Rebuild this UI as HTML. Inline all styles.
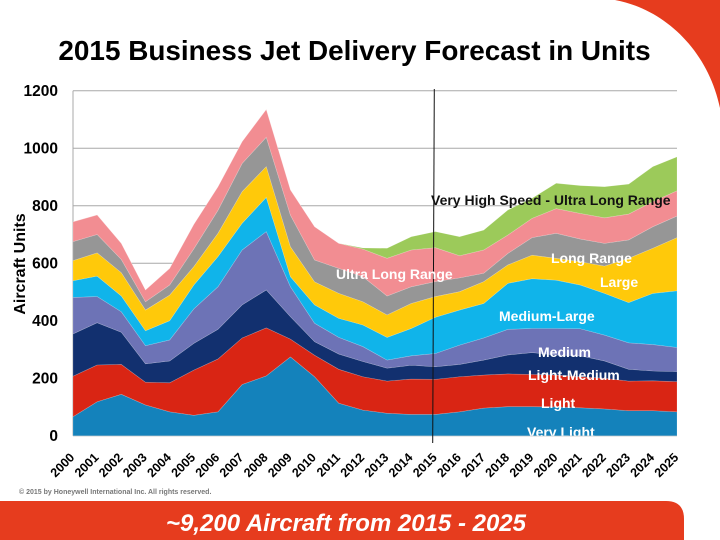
<!DOCTYPE html>
<html lang="en">
<head>
<meta charset="utf-8">
<title>2015 Business Jet Delivery Forecast in Units</title>
<style>
html,body{margin:0;padding:0;background:#fff;}
body{width:720px;height:540px;overflow:hidden;}
svg{display:block;font-family:"Liberation Sans",Arial,sans-serif;}
text{font-weight:bold;}
</style>
</head>
<body>
<svg id="chart" width="720" height="540" viewBox="0 0 720 540" xmlns="http://www.w3.org/2000/svg">
  <defs>
    <clipPath id="plot-clip"><rect x="60" y="60" width="640" height="375.7"/></clipPath>
  </defs>
  <rect x="0" y="0" width="720" height="540" fill="#ffffff"/>
  <path d="M615 0 C664 9 708 50 720 108 L720 0 Z" fill="#e63c1e"/>
  <text x="354.5" y="60" text-anchor="middle" font-size="27.9" fill="#000">2015 Business Jet Delivery Forecast in Units</text>
  <g id="grid"></g>
  <g id="areas"></g>
  <g id="yticks"></g>
  <g id="xticks"></g>
  <text transform="translate(25,264) rotate(-90)" text-anchor="middle" font-size="16" fill="#000">Aircraft Units</text>
  <line x1="434.3" y1="89" x2="432.7" y2="443" stroke="#111" stroke-width="1"/>
  <g font-size="14">
    <text x="431" y="205" fill="#111">Very High Speed - Ultra Long Range</text>
    <text x="336" y="279" fill="#fff">Ultra Long Range</text>
    <text x="551" y="263" fill="#fff">Long Range</text>
    <text x="600" y="287" fill="#fff">Large</text>
    <text x="499" y="321" fill="#fff">Medium-Large</text>
    <text x="538" y="357" fill="#fff">Medium</text>
    <text x="528" y="380" fill="#fff">Light-Medium</text>
    <text x="541" y="408" fill="#fff">Light</text>
    <text x="527" y="437" fill="#fff" clip-path="url(#plot-clip)">Very Light</text>
  </g>
  <text x="19" y="494" font-size="7" fill="#777">© 2015 by Honeywell International Inc. All rights reserved.</text>
  <path d="M0 501 H666 Q684 501 684 519 V540 H0 Z" fill="#e63c1e"/>
  <text x="346" y="531" text-anchor="middle" font-size="24" font-style="italic" fill="#fff">~9,200 Aircraft from 2015 - 2025</text>
</svg>
<script>
const years = ['2000','2001','2002','2003','2004','2005','2006','2007','2008','2009','2010','2011','2012','2013','2014','2015','2016','2017','2018','2019','2020','2021','2022','2023','2024','2025'];
const yTickValues = [0,200,400,600,800,1000,1200];

const veryLight = [66,118,144,107,83,71,83,178,208,274,205,113,89,78,74,74,83,96,101,101,100,97,93,87,87,83];
const light = [141,128,104,79,101,157,184,162,167,62,75,118,116,112,123,122,122,115,114,112,111,108,107,103,104,105];
const lightMedium = [147,147,112,64,76,93,103,115,132,78,47,53,53,45,48,44,43,52,66,76,70,73,60,41,34,35];
const medium = [127,91,71,63,73,120,148,191,203,104,64,58,52,28,33,46,67,77,89,84,92,94,90,92,92,84];
const mediumLarge = [58,71,55,52,67,83,105,93,119,35,64,66,75,79,95,126,122,120,160,173,168,152,145,140,178,197];
const large = [70,81,81,72,89,64,81,110,107,104,80,87,81,78,87,72,64,76,64,82,76,81,95,154,157,185];
const longRange = [66,64,46,29,35,62,80,98,102,110,76,87,87,66,58,52,48,29,40,61,87,79,79,64,75,75];
const ultraLongRange = [69,68,56,41,58,85,82,76,97,88,116,87,96,131,128,118,77,81,64,67,86,89,89,90,87,88];
const veryHighSpeed = [0,0,0,0,0,0,0,0,0,0,0,0,4,35,46,56,66,69,87,70,88,97,108,104,122,118];

const seriesOrder = [veryLight, light, lightMedium, medium, mediumLarge, large, longRange, ultraLongRange, veryHighSpeed];
const seriesNames = ['very-light','light','light-medium','medium','medium-large','large','long-range','ultra-long-range','very-high-speed'];
const seriesColors = ['#1482bb','#d92514','#12306f','#6d73b6','#10b4ea','#ffc90a','#969696','#f28d92','#9cca5a'];

const NS = 'http://www.w3.org/2000/svg';
const PLOT_LEFT = 73, PLOT_RIGHT = 677, PLOT_BOTTOM = 435.7, PLOT_TOP = 90.7, Y_MAX = 1200;
function xScale(i){ return PLOT_LEFT + (PLOT_RIGHT - PLOT_LEFT) * i / (years.length - 1); }
function yScale(v){ return PLOT_BOTTOM - (PLOT_BOTTOM - PLOT_TOP) * v / Y_MAX; }

const gridGroup = document.getElementById('grid');
const yGroup = document.getElementById('yticks');
const xGroup = document.getElementById('xticks');
const areaGroup = document.getElementById('areas');

yTickValues.forEach(function(v){
  const line = document.createElementNS(NS,'line');
  
  
  line.setAttribute('x1', PLOT_LEFT);
  line.setAttribute('x2', PLOT_RIGHT);
  line.setAttribute('y1', yScale(v));
  line.setAttribute('y2', yScale(v));
  line.setAttribute('stroke', '#a8a8a8');
  line.setAttribute('stroke-width', '1');
  gridGroup.appendChild(line);

  const label = document.createElementNS(NS,'text');
  
  
  label.setAttribute('x', 58);
  label.setAttribute('y', yScale(v) + 5.5);
  label.setAttribute('text-anchor', 'end');
  label.setAttribute('font-size', '15.5');
  label.setAttribute('fill', '#000');
  label.textContent = String(v);
  yGroup.appendChild(label);
});

const yAxisLine = document.createElementNS(NS,'line');


yAxisLine.setAttribute('x1', PLOT_LEFT);
yAxisLine.setAttribute('x2', PLOT_LEFT);
yAxisLine.setAttribute('y1', yScale(Y_MAX));
yAxisLine.setAttribute('y2', yScale(0));
yAxisLine.setAttribute('stroke', '#a8a8a8');
gridGroup.appendChild(yAxisLine);

const baseline = years.map(function(){ return 0; });
seriesOrder.forEach(function(values, s){
  const lower = baseline.slice();
  const upper = lower.map(function(b, i){ return b + values[i]; });
  let d = '';
  upper.forEach(function(v, i){ d += (i ? 'L' : 'M') + xScale(i).toFixed(2) + ' ' + yScale(v).toFixed(2); });
  for (let i = lower.length - 1; i >= 0; i--) { d += 'L' + xScale(i).toFixed(2) + ' ' + yScale(lower[i]).toFixed(2); }
  d += 'Z';
  const path = document.createElementNS(NS,'path');
  
  
  path.setAttribute('d', d);
  path.setAttribute('fill', seriesColors[s]);
  path.setAttribute('stroke', 'rgba(255,255,255,0.25)');
  path.setAttribute('stroke-width', '0.6');
  areaGroup.appendChild(path);
  upper.forEach(function(v, i){ baseline[i] = v; });
});

years.forEach(function(y, i){
  const label = document.createElementNS(NS,'text');
  
  
  const tx = xScale(i) - 4;
  const ty = 452;
  label.setAttribute('transform', 'translate(' + tx.toFixed(2) + ',' + ty + ') rotate(-45)');
  label.setAttribute('text-anchor', 'end');
  label.setAttribute('font-size', '12.5');
  label.setAttribute('fill', '#000');
  label.setAttribute('dominant-baseline', 'hanging');
  label.textContent = y;
  xGroup.appendChild(label);
});
</script>
</body>
</html>
